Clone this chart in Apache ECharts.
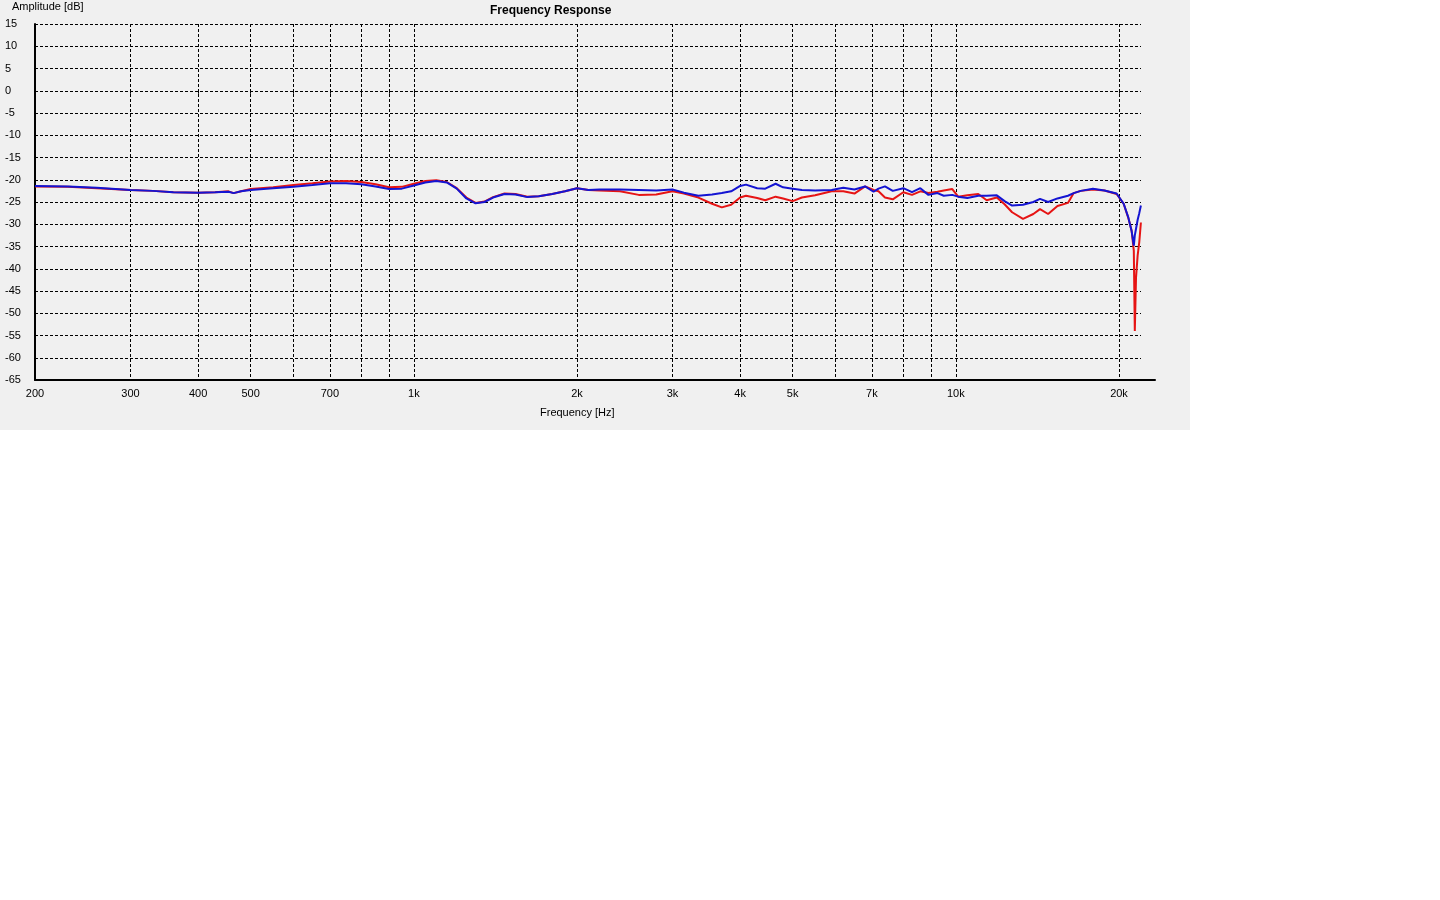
<!DOCTYPE html>
<html>
<head>
<meta charset="utf-8">
<script src="https://cdn.jsdelivr.net/npm/echarts@6/dist/echarts.min.js"></script>
<style>
html,body{margin:0;padding:0;background:#ffffff;}
#chart{position:absolute;left:0;top:0;width:1190px;height:430px;background:#f0f0f0;}
</style>
</head>
<body>
<div id="chart"></div>
<script>
// ---- data ----
const freqs = [200,230,260,300,330,360,400,430,455,465,480,500,550,600,650,700,750,800,850,900,950,
  1000,1050,1100,1150,1200,1250,1300,1350,1400,1470,1540,1620,1700,1800,1900,2000,2100,2200,2400,2600,2800,
  3000,3150,3350,3550,3700,3850,4000,4100,4300,4450,4650,4800,5000,5200,5500,5900,6200,6500,6800,7050,7200,
  7400,7650,8000,8300,8600,8900,9250,9500,9850,10100,10500,11000,11400,11900,12300,12700,13300,13900,14300,
  14800,15400,16100,16500,17000,17900,18800,19800,20400,20800,21100,21300,21390,21500,21650,21800,21950];
const redDb = [-21.5,-21.6,-21.9,-22.3,-22.5,-22.8,-22.9,-22.8,-22.6,-23.0,-22.6,-22.1,-21.7,-21.2,-20.8,-20.4,-20.3,
  -20.5,-21.0,-21.7,-21.6,-20.9,-20.3,-20.1,-20.5,-21.9,-24.0,-25.2,-24.9,-23.9,-23.1,-23.2,-23.8,-23.7,-23.2,-22.6,
  -21.9,-22.3,-22.4,-22.6,-23.4,-23.3,-22.6,-23.1,-24.0,-25.4,-26.2,-25.6,-24.0,-23.6,-24.1,-24.6,-23.8,-24.2,-24.8,
  -24.0,-23.5,-22.6,-22.6,-23.1,-21.5,-22.3,-22.6,-24.0,-24.4,-22.8,-23.4,-22.6,-23.0,-22.7,-22.4,-22.1,-23.8,-23.5,
  -23.2,-24.6,-24.0,-25.5,-27.3,-28.8,-27.7,-26.6,-27.7,-25.9,-25.2,-23.0,-22.5,-22.2,-22.4,-23.2,-25.4,-28.5,-31.4,
  -36.0,-54.0,-42.0,-37.0,-34.0,-29.6];
const blueDb = [-21.4,-21.5,-21.8,-22.3,-22.5,-22.8,-22.9,-22.8,-22.7,-23.0,-22.6,-22.3,-21.9,-21.6,-21.2,-20.8,-20.8,
  -21.0,-21.5,-22.1,-22.0,-21.3,-20.6,-20.3,-20.6,-22.0,-24.2,-25.3,-25.0,-24.0,-23.2,-23.3,-23.9,-23.7,-23.2,-22.6,
  -21.9,-22.3,-22.2,-22.2,-22.3,-22.4,-22.2,-22.9,-23.6,-23.3,-23.0,-22.6,-21.4,-21.1,-21.9,-22.0,-20.9,-21.7,-22.0,
  -22.3,-22.4,-22.3,-21.8,-22.2,-21.5,-22.7,-22.0,-21.5,-22.5,-21.9,-22.8,-21.9,-23.4,-23.0,-23.6,-23.4,-23.8,-24.1,
  -23.6,-23.6,-23.5,-24.8,-25.8,-25.6,-25.0,-24.3,-25.0,-24.2,-23.6,-23.0,-22.5,-22.0,-22.4,-23.1,-25.4,-28.4,-31.5,
  -34.8,-32.5,-31.0,-29.0,-27.5,-25.8];
const gridFreqs = [200,300,400,500,600,700,800,900,1000,2000,3000,4000,5000,6000,7000,8000,9000,10000,20000];
const labelFreqs = [200,300,400,500,700,1000,2000,3000,4000,5000,7000,10000,20000];
const yMin = -65, yMax = 15, yStep = 5;
const xMin = 200, xMax = 21960, xAxisLineMax = 23300;

const redPts = freqs.map((f,i)=>[f, redDb[i]]);
const bluePts = freqs.map((f,i)=>[f, blueDb[i]]);

const FONT = '"Liberation Sans", Arial, sans-serif';
const chart = echarts.init(document.getElementById('chart'), null, {renderer:'canvas'});
chart.setOption({
  backgroundColor: '#f0f0f0',
  animation: false,
  title: [
    {text:'Frequency Response', left:490, top:5, padding:0,
     textStyle:{fontFamily:FONT, fontSize:12, fontWeight:'bold', color:'#000'}},
    {text:'Amplitude [dB]', left:12, top:1, padding:0,
     textStyle:{fontFamily:FONT, fontSize:11, fontWeight:'normal', color:'#000'}},
    {text:'Frequency [Hz]', left:540, top:407, padding:0,
     textStyle:{fontFamily:FONT, fontSize:11, fontWeight:'normal', color:'#000'}}
  ],
  grid: [
    {left:35, top:24, right:49, bottom:50, containLabel:false},
    {left:35, top:24, right:35, bottom:50, containLabel:false}
  ],
  xAxis: [
    {type:'log', gridIndex:0, min:xMin, max:xMax, logBase:10,
     axisLine:{show:false},
     axisTick:{show:true, length:6, inside:false, customValues:gridFreqs,
       lineStyle:{color:'#000', width:1, type:[3,2]}},
     splitLine:{show:true, lineStyle:{color:'#000', width:1, type:[3,2]}},
     minorTick:{show:false}, minorSplitLine:{show:false},
     axisLabel:{show:true, customValues:labelFreqs, margin:8, color:'#000', fontFamily:FONT, fontSize:11,
       formatter:v => v>=1000 ? (v/1000)+'k' : String(v)}},
    {type:'log', gridIndex:1, min:xMin, max:xAxisLineMax, logBase:10,
     axisLine:{show:true, onZero:false, lineStyle:{color:'#000', width:2}},
     axisTick:{show:false}, axisLabel:{show:false}, splitLine:{show:false}}
  ],
  yAxis: [
    {type:'value', gridIndex:0, min:yMin, max:yMax, interval:yStep,
     axisLine:{show:true, onZero:false, lineStyle:{color:'#000', width:2}},
     axisTick:{show:false},
     splitLine:{show:true, lineStyle:{color:'#000', width:1, type:[3,2]}},
     axisLabel:{show:true, align:'left', margin:30, color:'#000', fontFamily:FONT, fontSize:11}},
    {type:'value', gridIndex:1, min:yMin, max:yMax, show:false}
  ],
  series: [
    {name:'red', type:'line', xAxisIndex:0, yAxisIndex:0, data:redPts, showSymbol:false,
     lineStyle:{color:'#e61414', width:2}, z:3},
    {name:'blue', type:'line', xAxisIndex:0, yAxisIndex:0, data:bluePts, showSymbol:false,
     lineStyle:{color:'#1414d2', width:2}, z:4}
  ]
});
</script>
</body>
</html>
